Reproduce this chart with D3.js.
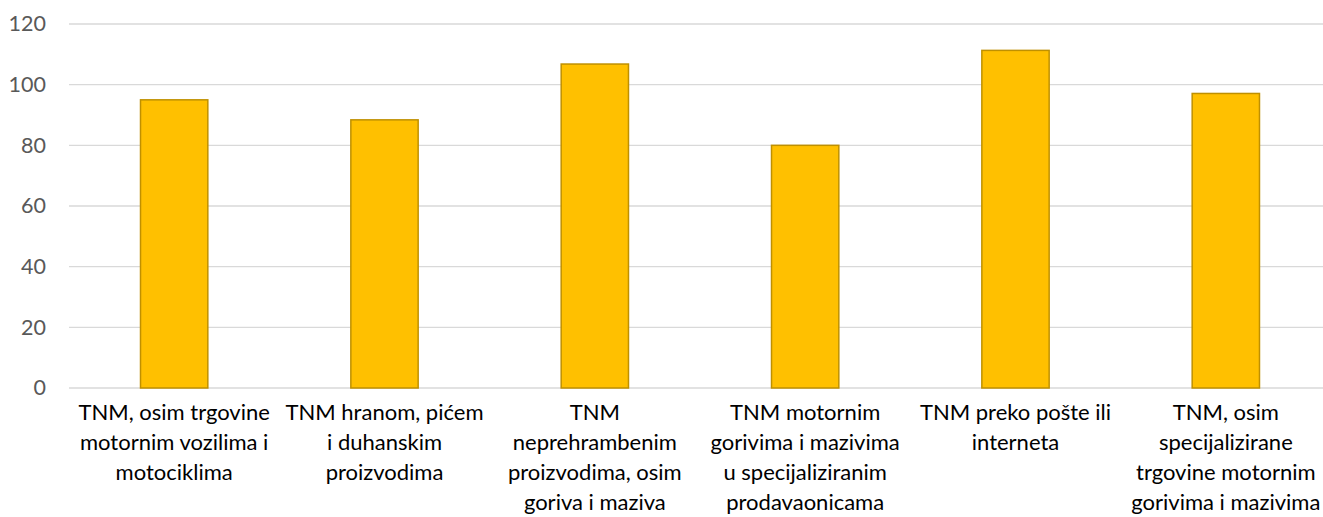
<!DOCTYPE html>
<html><head><meta charset="utf-8">
<script src="https://cdn.jsdelivr.net/npm/d3@7"></script>
<style>body{margin:0;background:#fff;}svg{display:block;}</style>
</head><body>
<script>
const categories = [
  "TNM, osim trgovine\nmotornim vozilima i\nmotociklima",
  "TNM hranom, pićem\ni duhanskim\nproizvodima",
  "TNM\nneprehrambenim\nproizvodima, osim\ngoriva i maziva",
  "TNM motornim\ngorivima i mazivima\nu specijaliziranim\nprodavaonicama",
  "TNM preko pošte ili\ninterneta",
  "TNM, osim\nspecijalizirane\ntrgovine motornim\ngorivima i mazivima"
];
const values = [95, 88.4, 106.8, 80, 111.3, 97.1];
const yTicks = [0, 20, 40, 60, 80, 100, 120];

const W = 1323, H = 517;
const m = {left: 69, right: -8, top: 24, bottom: 129};
const svg = d3.select("body").append("svg").attr("width", W).attr("height", H);

const x = d3.scaleBand().domain(categories).range([m.left, W - m.right]).paddingInner(0.68).paddingOuter(0.34);
const y = d3.scaleLinear().domain([0, 120]).range([H - m.bottom, m.top]);

const font = "Lato, 'Open Sans', sans-serif";

// gridlines
svg.append("g").selectAll("line").data(yTicks).join("line")
  .attr("x1", m.left).attr("x2", W - m.right)
  .attr("y1", d => y(d)).attr("y2", d => y(d))
  .attr("stroke", "#d9d9d9").attr("stroke-width", 1.3);

// y axis labels
const yAxis = d3.axisLeft(y).tickValues(yTicks).tickSize(0).tickPadding(23);
const gy = svg.append("g").attr("transform", `translate(${m.left},0)`).call(yAxis);
gy.select(".domain").remove();
gy.selectAll("text").attr("fill", "#595959").style("font-family", font).style("font-size", "21.5px");

// bars
svg.append("g").selectAll("rect").data(values).join("rect")
  .attr("x", (d, i) => x(categories[i]))
  .attr("width", x.bandwidth())
  .attr("y", d => y(d))
  .attr("height", d => y(0) - y(d))
  .attr("fill", "#ffc000")
  .attr("stroke", "#bf9000").attr("stroke-width", 1.5);

// x labels
const xAxis = d3.axisBottom(x).tickSize(0).tickFormat("");
const gx = svg.append("g").attr("transform", `translate(0,${y(0)})`).call(xAxis);
gx.select(".domain").remove();
gx.selectAll(".tick").each(function(d) {
  const t = d3.select(this).append("text")
    .attr("text-anchor", "middle").attr("fill", "#000")
    .style("font-family", font).style("font-size", "22px");
  d.split("\n").forEach((line, i) => {
    t.append("tspan").attr("x", 0).attr("y", 32 + i * 30).text(line);
  });
});
</script>
</body></html>
